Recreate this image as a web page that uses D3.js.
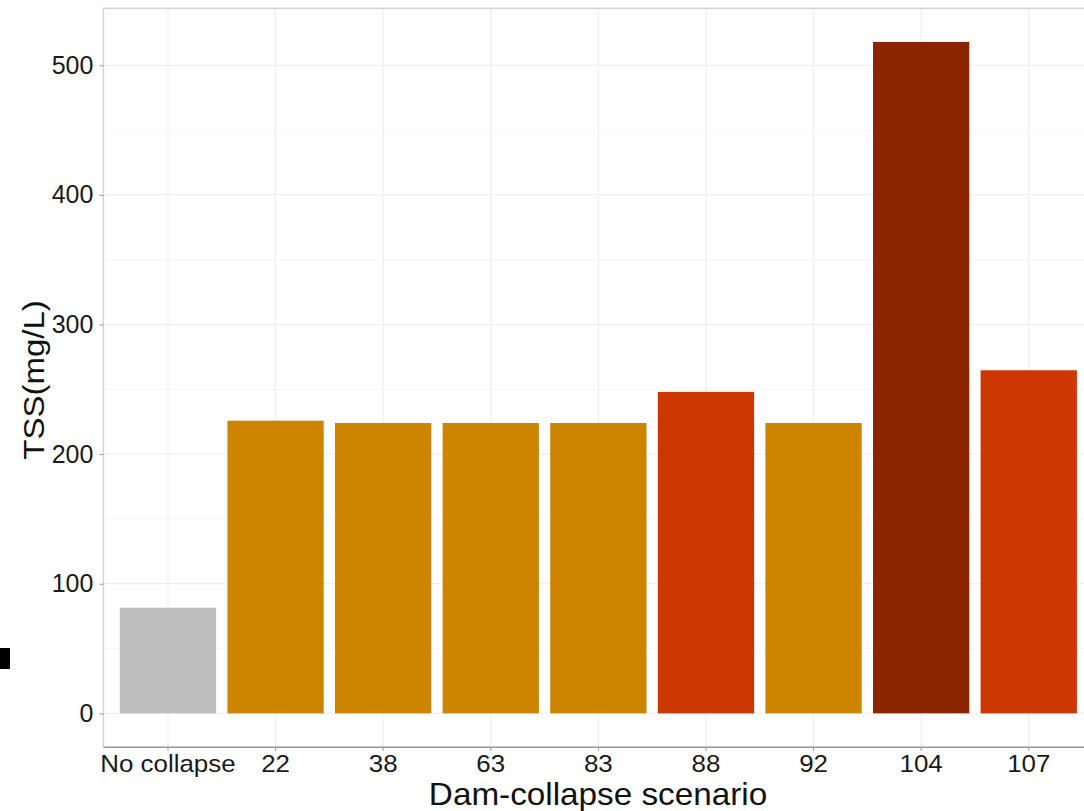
<!DOCTYPE html>
<html>
<head>
<meta charset="utf-8">
<script src="https://cdn.jsdelivr.net/npm/d3@7"></script>
<style>
  html, body { margin: 0; padding: 0; background: #fff; }
  svg { display: block; font-family: "Liberation Sans", Arial, sans-serif; }
</style>
</head>
<body>
<svg id="chart" width="1084" height="811"></svg>
<script>
const categories = ["No collapse", "22", "38", "63", "83", "88", "92", "104", "107"];
const tssValues = [81.5, 225.8, 224, 224, 224, 248, 224, 518, 264.7];
const barGroups = ["none", "low", "low", "low", "low", "mid", "low", "high", "mid"];
const yTicks = [0, 100, 200, 300, 400, 500];
const yMinor = [50, 150, 250, 350, 450];
const groupColors = { none: "#BEBEBE", low: "#CD8500", mid: "#CD3700", high: "#8B2500" };

const svg = d3.select("#chart");
const pL = 103.4, pR = 1093.3, pT = 8.4, pB = 746.9;

const n = categories.length;
const step = (pR - pL) / (n - 1 + 1.2);
const x = d3.scaleBand().domain(categories)
  .range([pL + 0.6 * step - step / 2, pR - 0.6 * step + step / 2])
  .paddingInner(0.105).paddingOuter(0.0525);

const y = d3.scaleLinear().domain([-25.9, 543.9]).range([pB, pT]);

// grid
const grid = svg.append("g");
yMinor.forEach(v => grid.append("line").attr("x1", pL).attr("x2", pR).attr("y1", y(v)).attr("y2", y(v)).attr("stroke", "#f6f6f6").attr("stroke-width", 1));
yTicks.forEach(v => grid.append("line").attr("x1", pL).attr("x2", pR).attr("y1", y(v)).attr("y2", y(v)).attr("stroke", "#efefef").attr("stroke-width", 1.2));
categories.forEach(c => grid.append("line").attr("x1", x(c) + x.bandwidth() / 2).attr("x2", x(c) + x.bandwidth() / 2).attr("y1", pT).attr("y2", pB).attr("stroke", "#efefef").attr("stroke-width", 1.2));

// bars
svg.append("g").selectAll("rect").data(categories).join("rect")
  .attr("x", d => x(d))
  .attr("width", x.bandwidth())
  .attr("y", (d, i) => y(tssValues[i]))
  .attr("height", (d, i) => y(0) - y(tssValues[i]))
  .attr("fill", (d, i) => groupColors[barGroups[i]]);

// panel border
svg.append("rect").attr("x", pL).attr("y", pT).attr("width", pR - pL).attr("height", pB - pT)
  .attr("fill", "none").attr("stroke", "#d4d4d4").attr("stroke-width", 1.5);

// axes
const yAxis = d3.axisLeft(y).tickValues(yTicks).tickSize(4).tickPadding(6).tickFormat(d3.format("d"));
const gy = svg.append("g").attr("transform", `translate(${pL},0)`).call(yAxis);
gy.select(".domain").remove();
gy.selectAll(".tick line").attr("stroke", "#999").attr("stroke-width", 1);
gy.selectAll(".tick text").attr("font-size", 25).attr("fill", "#1a1a1a");

const xAxis = d3.axisBottom(x).tickSize(4).tickPadding(4);
const gx = svg.append("g").attr("transform", `translate(0,${pB})`).call(xAxis);
gx.select(".domain").attr("stroke", "#999").attr("stroke-width", 1.3).attr("d", `M${pL},0.5H${pR}`);
gx.selectAll(".tick line").attr("stroke", "#999").attr("stroke-width", 1);
gx.selectAll(".tick text").attr("font-size", 24).attr("fill", "#1a1a1a").attr("transform", "scale(1.08,1)");

// titles
svg.append("text").attr("transform", "translate(598,805) scale(1.04,1)").attr("text-anchor", "middle")
  .attr("font-size", 32).attr("fill", "#111").text("Dam-collapse scenario");
svg.append("text").attr("transform", `translate(44,380) rotate(-90) scale(1.1,1)`).attr("text-anchor", "middle")
  .attr("font-size", 30).attr("fill", "#111").text("TSS(mg/L)");

// stray mark at left edge
svg.append("rect").attr("x", 0).attr("y", 648).attr("width", 10).attr("height", 21).attr("fill", "#000");
</script>
</body>
</html>
